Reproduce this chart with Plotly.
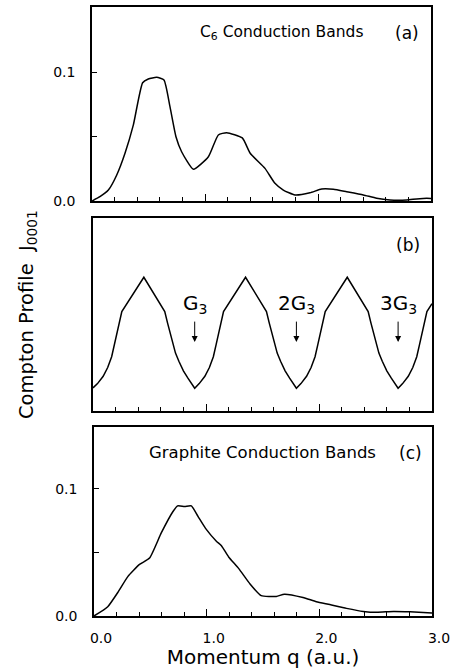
import plotly.graph_objects as go

W, H = 450, 669

# Panel (a): C6 conduction bands
qa = [0.0, 0.07, 0.145, 0.218, 0.292, 0.366, 0.448, 0.498, 0.572, 0.637, 0.69, 0.743,
      0.793, 0.897, 1.03, 1.118, 1.192, 1.33, 1.40, 1.531, 1.619, 1.693, 1.796, 1.929,
      2.032, 2.136, 2.254, 2.401, 2.519, 2.637, 2.785, 2.873, 2.962, 3.0]
ja = [0.0, 0.0033, 0.0085, 0.020, 0.037, 0.059, 0.0917, 0.0946, 0.0959, 0.0938, 0.0731,
      0.0498, 0.0382, 0.0246, 0.0343, 0.0512, 0.0530, 0.0489, 0.037, 0.0253, 0.0137,
      0.0085, 0.0047, 0.0064, 0.0093, 0.0091, 0.0072, 0.0047, 0.0021, 0.0008, 0.0008,
      0.0016, 0.0021, 0.0019]

# Panel (b): periodic profile (arbitrary units)
qb = [0.00, 0.04, 0.09, 0.13, 0.165, 0.19, 0.21, 0.235, 0.255, 0.45, 0.635, 0.66, 0.695,
      0.73, 0.76, 0.80, 0.84, 0.87, 0.90,
      0.94, 0.99, 1.03, 1.065, 1.09, 1.11, 1.135, 1.155, 1.35, 1.535, 1.56, 1.595,
      1.63, 1.66, 1.70, 1.74, 1.77, 1.80,
      1.84, 1.89, 1.93, 1.965, 1.99, 2.01, 2.035, 2.055, 2.25, 2.435, 2.46, 2.495,
      2.53, 2.56, 2.60, 2.64, 2.67, 2.70,
      2.74, 2.79, 2.83, 2.865, 2.89, 2.91, 2.935, 2.955, 3.00]
jb = [0.120, 0.142, 0.180, 0.225, 0.281, 0.345, 0.403, 0.470, 0.515, 0.693, 0.515, 0.455,
      0.370, 0.300, 0.258, 0.208, 0.170, 0.143, 0.118,
      0.142, 0.180, 0.225, 0.281, 0.345, 0.403, 0.470, 0.515, 0.693, 0.515, 0.455,
      0.370, 0.300, 0.258, 0.208, 0.170, 0.143, 0.118,
      0.142, 0.180, 0.225, 0.281, 0.345, 0.403, 0.470, 0.515, 0.693, 0.515, 0.455,
      0.370, 0.300, 0.258, 0.208, 0.170, 0.143, 0.118,
      0.142, 0.180, 0.225, 0.281, 0.345, 0.403, 0.470, 0.515, 0.556]

# Panel (c): graphite conduction bands
qc = [0.0, 0.122, 0.211, 0.300, 0.404, 0.493, 0.597, 0.701, 0.742, 0.804, 0.864, 0.923,
      0.990, 1.086, 1.131, 1.195, 1.285, 1.381, 1.484, 1.618, 1.69, 1.855, 1.974, 2.093,
      2.241, 2.39, 2.51, 2.657, 2.805, 3.0]
jc = [0.0, 0.0073, 0.0185, 0.031, 0.0406, 0.0456, 0.0654, 0.0823, 0.0867, 0.0862, 0.0867,
      0.0784, 0.069, 0.0589, 0.0553, 0.0465, 0.0373, 0.0257, 0.016, 0.0154, 0.0172,
      0.0146, 0.0113, 0.009, 0.006, 0.0036, 0.0029, 0.0036, 0.0033, 0.0024]

x_tickvals = [0, 1, 2, 3]
x_ticktext = ["0.0", "1.0", "2.0", "3.0"]
y_tickvals = [0, 0.1]
y_ticktext = ["0.0", "0.1"]
g_marks = [0.9, 1.8, 2.7]
g_labels = ["G<sub>3</sub>", "2G<sub>3</sub>", "3G<sub>3</sub>"]

FONT = "DejaVu Sans"
LINE = dict(color="black", width=1.5)

fig = go.Figure()
fig.add_trace(go.Scatter(x=qa, y=ja, mode="lines", line=dict(color="black", width=1.5, shape="spline", smoothing=0.5), xaxis="x", yaxis="y"))
fig.add_trace(go.Scatter(x=qb, y=jb, mode="lines", line=LINE, xaxis="x2", yaxis="y2"))
fig.add_trace(go.Scatter(x=qc, y=jc, mode="lines", line=dict(color="black", width=1.5, shape="spline", smoothing=0.5), xaxis="x3", yaxis="y3"))


def px_x(a, b):
    return [a / W, b / W]


def px_y(top, bot):
    return [1 - bot / H, 1 - top / H]


xcommon = dict(range=[0, 3], showline=True, mirror=True, linecolor="black", linewidth=1.5,
               showgrid=False, zeroline=False, ticks="inside", ticklen=7, tickcolor="black",
               tickvals=x_tickvals, ticktext=x_ticktext, automargin=False,
               minor=dict(dtick=0.2, tick0=0, ticks="inside", ticklen=4, tickcolor="black", showgrid=False))
ycommon = dict(showline=True, mirror=True, linecolor="black", linewidth=1.5, showgrid=False,
               zeroline=False, ticks="inside", ticklen=5, tickcolor="black",
               tickvals=y_tickvals, ticktext=y_ticktext, automargin=False,
               minor=dict(dtick=0.05, tick0=0, ticks="inside", ticklen=5, tickcolor="black", showgrid=False),
               tickfont=dict(family=FONT, size=14, color="black"), ticklabelstandoff=12)

fig.update_layout(
    width=W, height=H, margin=dict(l=0, r=0, t=0, b=0),
    paper_bgcolor="white", plot_bgcolor="white", showlegend=False,
    font=dict(family=FONT, color="black"),
    xaxis=dict(**xcommon, domain=px_x(92, 431), anchor="y", showticklabels=False),
    yaxis=dict(**ycommon, domain=px_y(7, 201), range=[0, 0.1504], anchor="x"),
    xaxis2=dict(**xcommon, domain=px_x(93, 432), anchor="y2", showticklabels=False),
    yaxis2=dict(showline=True, mirror=True, linecolor="black", linewidth=1.5, showgrid=False,
                zeroline=False, ticks="", showticklabels=False, automargin=False,
                domain=px_y(218, 411), range=[0, 1], anchor="x2"),
    xaxis3=dict(**xcommon, domain=px_x(94, 432), anchor="y3", showticklabels=True,
                tickfont=dict(family=FONT, size=14, color="black"), ticklabelstandoff=8,
                ticklabelshift=7, ticklabeloverflow="allow",
                title=dict(text="Momentum q (a.u.)", font=dict(family=FONT, size=20, color="black"), standoff=2)),
    yaxis3=dict(**ycommon, domain=px_y(427, 616), range=[0, 0.1488], anchor="x3"),
)

ann = []
ann.append(dict(text="Compton Profile\u00a0\u00a0J<sub>0001</sub>", textangle=-90, xref="paper", yref="paper",
                x=27 / W, y=1 - 315 / H, xanchor="center", yanchor="middle", showarrow=False,
                font=dict(family=FONT, size=19.5, color="black")))
ann.append(dict(text="C<sub>6</sub> Conduction Bands", xref="paper", yref="paper", x=281 / W, y=1 - 33 / H,
                xanchor="center", yanchor="middle", showarrow=False, font=dict(family=FONT, size=15.5)))
ann.append(dict(text="(a)", xref="paper", yref="paper", x=407 / W, y=1 - 33 / H,
                xanchor="center", yanchor="middle", showarrow=False, font=dict(family=FONT, size=17)))
ann.append(dict(text="(b)", xref="paper", yref="paper", x=408 / W, y=1 - 245 / H,
                xanchor="center", yanchor="middle", showarrow=False, font=dict(family=FONT, size=17)))
ann.append(dict(text="Graphite Conduction Bands", xref="paper", yref="paper", x=262 / W, y=1 - 453 / H,
                xanchor="center", yanchor="middle", showarrow=False, font=dict(family=FONT, size=16.5)))
ann.append(dict(text="(c)", xref="paper", yref="paper", x=410 / W, y=1 - 453 / H,
                xanchor="center", yanchor="middle", showarrow=False, font=dict(family=FONT, size=17)))
for gx, gl in zip(g_marks, g_labels):
    ann.append(dict(text=gl, xref="x2", yref="y2", x=gx, y=0.357, ax=0, ay=-38, showarrow=True,
                    arrowhead=2, arrowsize=1.2, arrowwidth=1, arrowcolor="black", startstandoff=3,
                    font=dict(family=FONT, size=20)))
fig.update_layout(annotations=ann)

fig.write_html("out.html")
